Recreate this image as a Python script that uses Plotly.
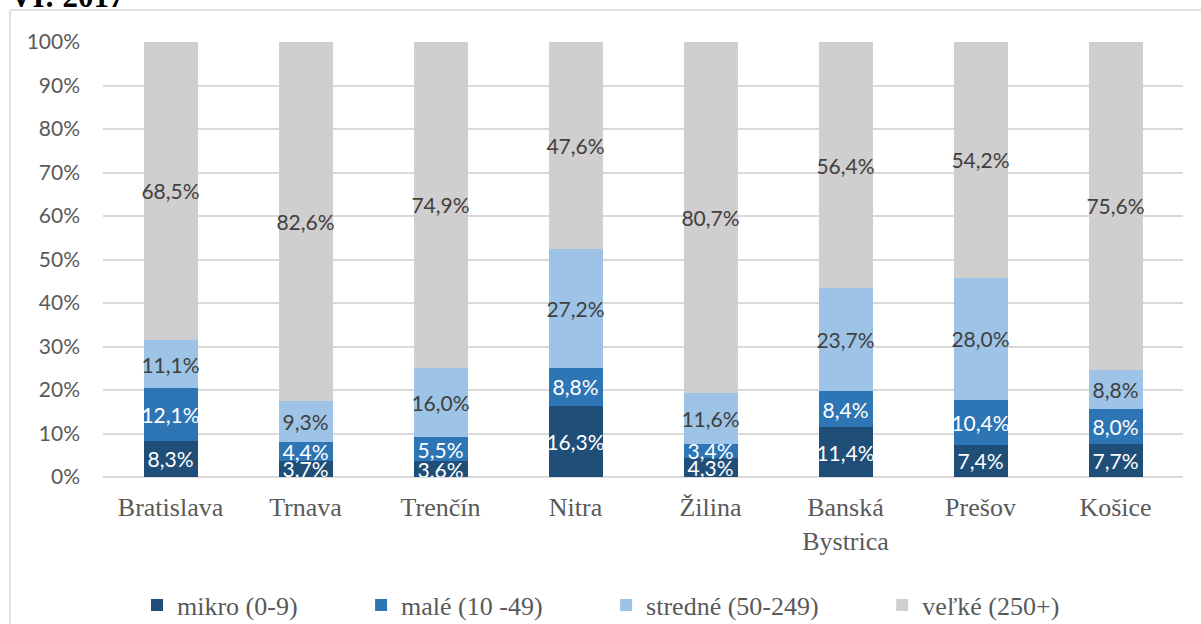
import plotly.graph_objects as go

regions = ["Bratislava", "Trnava", "Trenčín", "Nitra", "Žilina", "Banská<br>Bystrica", "Prešov", "Košice"]
mikro = [8.3, 3.7, 3.6, 16.3, 4.3, 11.4, 7.4, 7.7]
male = [12.1, 4.4, 5.5, 8.8, 3.4, 8.4, 10.4, 8.0]
stredne = [11.1, 9.3, 16.0, 27.2, 11.6, 23.7, 28.0, 8.8]
velke = [68.5, 82.6, 74.9, 47.6, 80.7, 56.4, 54.2, 75.6]

series_names = ["mikro (0-9)", "malé (10 -49)", "stredné (50-249)", "veľké (250+)"]
series_vals = [mikro, male, stredne, velke]
colors = ["#1f4e79", "#2e75b6", "#9dc3e6", "#d0cece"]
text_colors = ["#ffffff", "#ffffff", "#404040", "#404040"]
tick_vals = [0, 10, 20, 30, 40, 50, 60, 70, 80, 90, 100]
tick_text = [f"{v}%" for v in tick_vals]

W, H = 1201, 624
L, R, T, B = 103, 18, 42, 147
PW, PH = W - L - R, H - T - B

def px_x(p):
    return (p - L) / PW

def px_y(p):
    return (H - B - p) / PH

SERIF = "Liberation Serif"

fig = go.Figure()
pad = "\u00a0" * 9
for i, (name, vals) in enumerate(zip(series_names, series_vals)):
    fig.add_trace(go.Bar(
        x=regions, y=vals,
        name=name,
        showlegend=False,
        marker=dict(color=colors[i], line=dict(width=0)),
        text=[f"{v:.1f}%".replace(".", ",") for v in vals],
        textposition="inside",
        insidetextanchor="middle",
        textangle=0,
        textfont=dict(family="Lato", size=21, color=text_colors[i]),
        width=0.4,
        hoverinfo="skip",
    ))

# legend entries (serif font, like the reference legend)
for i, name in enumerate(series_names):
    fig.add_trace(go.Bar(
        x=[regions[0]], y=[0],
        name=name + (pad if i < 3 else ""),
        marker=dict(color=colors[i], line=dict(width=0)),
        textfont=dict(family=SERIF, size=26, color="#595959"),
        width=0.4, hoverinfo="skip", showlegend=True,
    ))

fig.update_layout(
    width=W, height=H,
    barmode="stack",
    font=dict(family=SERIF, size=26, color="#595959"),
    margin=dict(l=L, r=R, t=T, b=B, autoexpand=False),
    plot_bgcolor="white", paper_bgcolor="white",
    uniformtext=dict(minsize=21, mode="show"),
    showlegend=True,
    legend=dict(
        orientation="h", x=px_x(137), y=px_y(605), yanchor="middle", xanchor="left",
        font=dict(family=SERIF, size=26, color="#595959"),
        traceorder="normal", itemwidth=30,
    ),
    xaxis=dict(
        showgrid=False, ticks="", showline=False, zeroline=False,
        tickfont=dict(family=SERIF, size=26, color="#595959"),
        ticklabelstandoff=12,
    ),
    yaxis=dict(
        range=[0, 100], tickvals=tick_vals, ticktext=tick_text,
        showgrid=True, gridcolor="#d9d9d9", gridwidth=1.5,
        zeroline=True, zerolinecolor="#d9d9d9", zerolinewidth=1.5,
        tickfont=dict(family="Lato", size=21, color="#595959"),
        ticks="", ticklabelstandoff=22,
    ),
)

# outer chart border (top and left edges visible)
fig.add_shape(type="line", xref="paper", yref="paper",
              x0=px_x(10), x1=px_x(1201), y0=px_y(10), y1=px_y(10),
              line=dict(color="#d9d9d9", width=1.5))
fig.add_shape(type="line", xref="paper", yref="paper",
              x0=px_x(10), x1=px_x(10), y0=px_y(10), y1=px_y(624),
              line=dict(color="#d9d9d9", width=1.5))

fig.add_annotation(text="<b>VI: 2017</b>", xref="paper", yref="paper",
                   x=px_x(127), y=px_y(-4), xanchor="right", yanchor="middle",
                   showarrow=False,
                   font=dict(family=SERIF, size=31, color="#000000"))

fig.write_html("out.html", config={"displayModeBar": False},
               post_script="document.body.style.margin='0';")
